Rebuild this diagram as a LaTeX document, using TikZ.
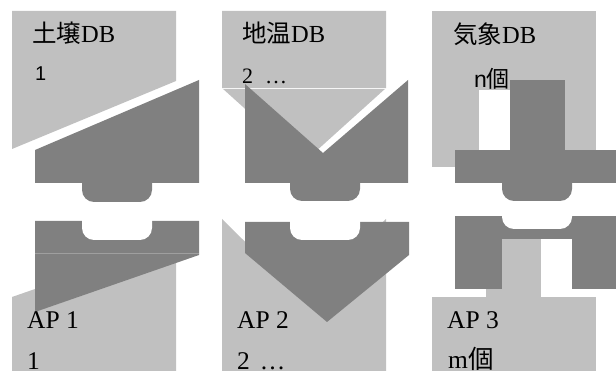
\documentclass[tikz,border=0pt]{standalone}
\usepackage{fontspec}
\setmainfont{Liberation Serif}
\newfontfamily\cjkf{Noto Sans CJK JP}
\newfontfamily\sansf{Liberation Sans}
\definecolor{lg}{HTML}{C0C0C0}
\definecolor{dg}{HTML}{808080}
\begin{document}
\begin{tikzpicture}[x=1pt,y=-1pt,
  light/.style={fill=lg},
  dark/.style={fill=dg},
  hole/.style={fill=white},
  tabshape/.style={fill=dg, rounded corners=12pt},
  notchshape/.style={fill=white, rounded corners=12pt},
  seamdark/.style={draw=gray!75, line width=0.6pt},
  seamlight/.style={draw=white!85!lg, line width=0.8pt},
  toplbl/.style={anchor=base west, inner sep=0pt, font=\fontsize{24.5}{24.5}\selectfont},
  botlbl/.style={anchor=base west, inner sep=0pt, font=\fontsize{25.5}{25.5}\selectfont}]
\useasboundingbox (0,0) rectangle (616,371);
\clip (0,0) rectangle (616,371);

% ---------- panel 1 top ----------
\fill[light] (12,11) -- (176,11) -- (176,81) -- (12,149) -- cycle;
\fill[dark] (35,150) -- (199,80) -- (199,183) -- (35,183) -- cycle;
\fill[tabshape] (82,170) -- (82,202) -- (152,202) -- (152,170) -- cycle;

% ---------- panel 1 bottom ----------
\fill[light] (12,297) -- (176,240) -- (176,371) -- (12,371) -- cycle;
\fill[dark] (35,221) -- (199,221) -- (199,255) -- (35,312) -- cycle;
\draw[seamdark] (35,253) -- (199,253);
\fill[notchshape] (82,208) -- (82,240) -- (152,240) -- (152,208) -- cycle;

% ---------- panel 2 top ----------
\fill[light] (222,11) -- (386,11) -- (386,88) -- (304,162) -- (222,88) -- cycle;
\draw[seamlight] (222,88.5) -- (386,88.5);
\fill[dark] (245,84) -- (323,153) -- (408,80) -- (408,183) -- (245,183) -- cycle;
\fill[tabshape] (290,170) -- (290,201) -- (360,201) -- (360,170) -- cycle;

% ---------- panel 2 bottom ----------
\fill[light] (222,219) -- (304,300) -- (386,219) -- (386,371) -- (222,371) -- cycle;
\fill[dark] (245,222) -- (409,222) -- (409,255) -- (327,322) -- (245,253) -- cycle;
\fill[notchshape] (290,208) -- (290,240) -- (360,240) -- (360,208) -- cycle;

% ---------- panel 3 top ----------
\fill[light] (432,11) rectangle (596,167);
\fill[hole] (479,90) rectangle (510,150);
\fill[dark] (510,80) rectangle (565,150);
\fill[dark] (455,150) rectangle (616,183);
\fill[tabshape] (502,170) -- (502,201) -- (572,201) -- (572,170) -- cycle;

% ---------- panel 3 bottom ----------
\fill[light] (486,239) rectangle (541,297);
\fill[light] (432,297) rectangle (596,371);
\fill[dark] (455,216) rectangle (616,239);
\fill[dark] (455,239) rectangle (502,289);
\fill[dark] (572,239) rectangle (616,289);
\fill[notchshape] (502,204) -- (502,229) -- (572,229) -- (572,204) -- cycle;

% ---------- labels ----------
\node[toplbl] (t1) at (32,43) {{\cjkf 土壌}DB};
\node[toplbl, font=\sansf\fontsize{20}{20}\selectfont] (t1n) at (35,81) {1};
\node[toplbl] (t2) at (242,43) {{\cjkf 地温}DB};
\node[toplbl, font=\fontsize{22}{22}\selectfont] (t2n) at (242,84) {2\hspace{12pt}…};
\node[toplbl] (t3) at (453,44) {{\cjkf 気象}DB};
\node[toplbl, font=\fontsize{23}{23}\selectfont] (t3n) at (474,88) {{\sansf n}{\cjkf 個}};

\node[botlbl] (b1) at (27,329) {AP 1};
\node[botlbl] (b1n) at (27,370) {1};
\node[botlbl] (b2) at (237,329) {AP 2};
\node[botlbl] (b2n) at (237,370) {2\hspace{10pt}…};
\node[botlbl] (b3) at (447,329) {AP 3};
\node[botlbl] (b3n) at (448,369) {m{\cjkf 個}};
\end{tikzpicture}
\end{document}
